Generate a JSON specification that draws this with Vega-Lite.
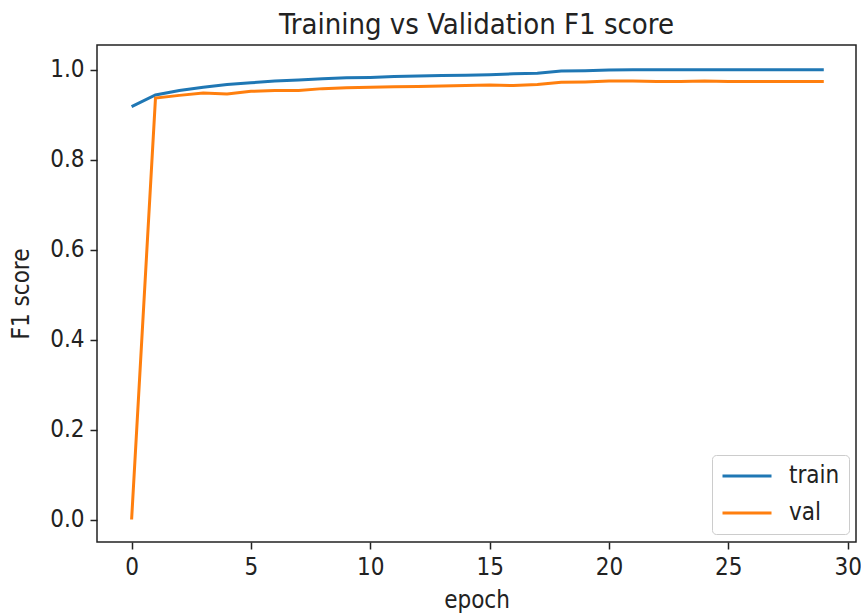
{
  "$schema": "https://vega.github.io/schema/vega-lite/v6.json",
  "autosize": {"type": "none"},
  "width": 759,
  "height": 497,
  "padding": {"left": 97, "top": 45, "right": 5, "bottom": 72},
  "background": "#ffffff",
  "config": {
    "font": "DejaVu Sans Condensed",
    "view": {"stroke": "#222222", "strokeWidth": 1.5},
    "title": {"font": "DejaVu Sans Condensed", "fontSize": 29, "fontWeight": "normal", "color": "#222222", "offset": 5},
    "axis": {
      "grid": false,
      "domain": false,
      "ticks": true,
      "tickSize": 7,
      "tickWidth": 1.5,
      "tickColor": "#222222",
      "labelFont": "DejaVu Sans Condensed",
      "labelFontSize": 24,
      "labelColor": "#222222",
      "labelPadding": 6,
      "titleFont": "DejaVu Sans Condensed",
      "titleFontSize": 24,
      "titleFontWeight": "normal",
      "titleColor": "#222222"
    },
    "legend": {
      "labelFont": "DejaVu Sans Condensed",
      "labelFontSize": 24,
      "labelColor": "#222222"
    }
  },
  "title": {"text": "Training vs Validation F1 score", "anchor": "middle"},
  "data": {
    "values": [
      {"epoch": 0, "set": "train", "f1": 0.918},
      {"epoch": 1, "set": "train", "f1": 0.944},
      {"epoch": 2, "set": "train", "f1": 0.954},
      {"epoch": 3, "set": "train", "f1": 0.961},
      {"epoch": 4, "set": "train", "f1": 0.967},
      {"epoch": 5, "set": "train", "f1": 0.971},
      {"epoch": 6, "set": "train", "f1": 0.975},
      {"epoch": 7, "set": "train", "f1": 0.977},
      {"epoch": 8, "set": "train", "f1": 0.98},
      {"epoch": 9, "set": "train", "f1": 0.982},
      {"epoch": 10, "set": "train", "f1": 0.983},
      {"epoch": 11, "set": "train", "f1": 0.985},
      {"epoch": 12, "set": "train", "f1": 0.986},
      {"epoch": 13, "set": "train", "f1": 0.987},
      {"epoch": 14, "set": "train", "f1": 0.988},
      {"epoch": 15, "set": "train", "f1": 0.989},
      {"epoch": 16, "set": "train", "f1": 0.991},
      {"epoch": 17, "set": "train", "f1": 0.992},
      {"epoch": 18, "set": "train", "f1": 0.997},
      {"epoch": 19, "set": "train", "f1": 0.998},
      {"epoch": 20, "set": "train", "f1": 0.9995},
      {"epoch": 21, "set": "train", "f1": 0.9997},
      {"epoch": 22, "set": "train", "f1": 0.9998},
      {"epoch": 23, "set": "train", "f1": 0.9998},
      {"epoch": 24, "set": "train", "f1": 0.9998},
      {"epoch": 25, "set": "train", "f1": 0.9998},
      {"epoch": 26, "set": "train", "f1": 0.9999},
      {"epoch": 27, "set": "train", "f1": 0.9999},
      {"epoch": 28, "set": "train", "f1": 0.9999},
      {"epoch": 29, "set": "train", "f1": 0.9999},
      {"epoch": 0, "set": "val", "f1": 0.0},
      {"epoch": 1, "set": "val", "f1": 0.937},
      {"epoch": 2, "set": "val", "f1": 0.943},
      {"epoch": 3, "set": "val", "f1": 0.948},
      {"epoch": 4, "set": "val", "f1": 0.946},
      {"epoch": 5, "set": "val", "f1": 0.952},
      {"epoch": 6, "set": "val", "f1": 0.954},
      {"epoch": 7, "set": "val", "f1": 0.954},
      {"epoch": 8, "set": "val", "f1": 0.958},
      {"epoch": 9, "set": "val", "f1": 0.96},
      {"epoch": 10, "set": "val", "f1": 0.961},
      {"epoch": 11, "set": "val", "f1": 0.962},
      {"epoch": 12, "set": "val", "f1": 0.963},
      {"epoch": 13, "set": "val", "f1": 0.964},
      {"epoch": 14, "set": "val", "f1": 0.965},
      {"epoch": 15, "set": "val", "f1": 0.966},
      {"epoch": 16, "set": "val", "f1": 0.965},
      {"epoch": 17, "set": "val", "f1": 0.967},
      {"epoch": 18, "set": "val", "f1": 0.972},
      {"epoch": 19, "set": "val", "f1": 0.973},
      {"epoch": 20, "set": "val", "f1": 0.975},
      {"epoch": 21, "set": "val", "f1": 0.975},
      {"epoch": 22, "set": "val", "f1": 0.974},
      {"epoch": 23, "set": "val", "f1": 0.974},
      {"epoch": 24, "set": "val", "f1": 0.975},
      {"epoch": 25, "set": "val", "f1": 0.974},
      {"epoch": 26, "set": "val", "f1": 0.974},
      {"epoch": 27, "set": "val", "f1": 0.974},
      {"epoch": 28, "set": "val", "f1": 0.974},
      {"epoch": 29, "set": "val", "f1": 0.974}
    ]
  },
  "mark": {"type": "line", "strokeWidth": 3},
  "encoding": {
    "x": {
      "field": "epoch",
      "type": "quantitative",
      "scale": {"domain": [-1.45, 30.35], "nice": false, "zero": false},
      "axis": {"values": [0, 5, 10, 15, 20, 25, 30], "title": "epoch", "titlePadding": 9}
    },
    "y": {
      "field": "f1",
      "type": "quantitative",
      "scale": {"domain": [-0.05, 1.055], "nice": false, "zero": false},
      "axis": {"values": [0, 0.2, 0.4, 0.6, 0.8, 1.0], "format": ".1f", "title": "F1 score", "titlePadding": 16}
    },
    "color": {
      "field": "set",
      "type": "nominal",
      "scale": {"domain": ["train", "val"], "range": ["#1f77b4", "#ff7f0e"]},
      "legend": {
        "title": null,
        "orient": "none",
        "legendX": 615,
        "legendY": 410,
        "padding": 9,
        "fillColor": "#ffffff",
        "strokeColor": "#cccccc",
        "cornerRadius": 4,
        "symbolType": "M-1,0L3.667,0",
        "symbolSize": 441,
        "symbolStrokeWidth": 3,
        "labelOffset": 44,
        "rowPadding": 13
      }
    }
  }
}
